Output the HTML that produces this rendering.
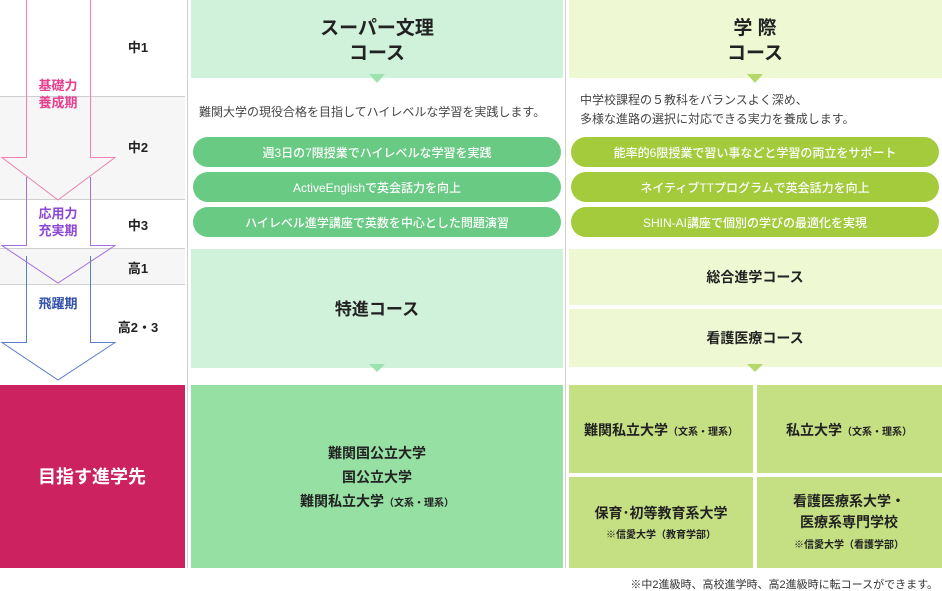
<!DOCTYPE html>
<html><head><meta charset="utf-8"><style>
body{margin:0;background:#fff;}
svg{display:block;font-family:"Liberation Sans","Noto Sans CJK JP",sans-serif;}
</style></head><body>
<svg width="942" height="591" viewBox="0 0 942 591" xmlns="http://www.w3.org/2000/svg">
<rect x="0" y="97" width="185" height="102" fill="#f6f6f6"/>
<rect x="0" y="249" width="185" height="35" fill="#f6f6f6"/>
<g stroke="#cfcfcf" stroke-width="1">
<line x1="0" y1="96.5" x2="185" y2="96.5"/>
<line x1="0" y1="199.5" x2="185" y2="199.5"/>
<line x1="0" y1="248.5" x2="185" y2="248.5"/>
<line x1="0" y1="284.5" x2="185" y2="284.5"/>
</g>
<line x1="187.5" y1="0" x2="187.5" y2="568" stroke="#d0d0d0"/>
<line x1="565.5" y1="0" x2="565.5" y2="568" stroke="#d0d0d0"/>
<path d="M26.5,256 V342.5 H2 L58,380 L115,342.5 H90.5 V256" fill="none" stroke="#5b7cc9" stroke-width="1"/>
<path d="M26.5,177 V245.5 H2 L58,283 L115,245.5 H90.5 V177" fill="none" stroke="#a56ee0" stroke-width="1"/>
<path d="M26.5,0 V157.5 H2 L58,200 L115,157.5 H90.5 V0" fill="none" stroke="#f27fb5" stroke-width="1"/>
<g font-size="13" text-anchor="middle" font-weight="bold">
<text x="58" y="90" fill="#e83f8f">基礎力</text>
<text x="58" y="107" fill="#e83f8f">養成期</text>
<text x="58" y="218" fill="#8c47d6">応用力</text>
<text x="58" y="235" fill="#8c47d6">充実期</text>
<text x="58" y="308" fill="#2f4fa8">飛躍期</text>
</g>
<g font-size="13" text-anchor="middle" font-weight="bold" fill="#222">
<text x="138" y="52">中1</text>
<text x="138" y="152">中2</text>
<text x="138" y="230">中3</text>
<text x="138" y="273">高1</text>
<text x="138" y="332">高2・3</text>
</g>
<rect x="0" y="385" width="185" height="183" fill="#cc2360"/>
<text x="92" y="483" font-size="18" font-weight="bold" fill="#fff" text-anchor="middle">目指す進学先</text>

<rect x="191" y="0" width="372" height="78" fill="#d0f1da"/>
<polygon points="369,74 385,74 377,83" fill="#9ce2b0"/>
<g font-size="19" font-weight="bold" text-anchor="middle" fill="#222">
<text x="377" y="34">スーパー文理</text>
<text x="377" y="59">コース</text>
</g>
<text x="199" y="116" font-size="12" fill="#444">難関大学の現役合格を目指してハイレベルな学習を実践します。</text>
<g fill="#69ca83">
<rect x="193" y="137" width="368" height="30" rx="15"/>
<rect x="193" y="172" width="368" height="30" rx="15"/>
<rect x="193" y="207" width="368" height="30" rx="15"/>
</g>
<g font-size="12" fill="#fff" text-anchor="middle" font-weight="500">
<text x="377" y="157">週3日の7限授業でハイレベルな学習を実践</text>
<text x="377" y="192">ActiveEnglishで英会話力を向上</text>
<text x="377" y="227">ハイレベル進学講座で英数を中心とした問題演習</text>
</g>
<rect x="191" y="249" width="372" height="119" fill="#d0f1da"/>
<polygon points="369,364 385,364 377,372" fill="#9ce2b0"/>
<text x="377" y="315" font-size="17" font-weight="bold" text-anchor="middle" fill="#222">特進コース</text>
<rect x="191" y="385" width="372" height="183" fill="#96e0a3"/>
<g font-size="14" font-weight="bold" text-anchor="middle" fill="#222">
<text x="377" y="458">難関国公立大学</text>
<text x="377" y="482">国公立大学</text>
<text x="377" y="506">難関私立大学<tspan font-size="10">（文系・理系）</tspan></text>
</g>

<rect x="569" y="0" width="373" height="78" fill="#eef9d3"/>
<polygon points="747,74 763,74 755,83" fill="#b4d86a"/>
<g font-size="19" font-weight="bold" text-anchor="middle" fill="#222">
<text x="755" y="34">学 際</text>
<text x="755" y="59">コース</text>
</g>
<text x="580" y="104" font-size="12" fill="#444">中学校課程の５教科をバランスよく深め、</text>
<text x="580" y="123" font-size="12" fill="#444">多様な進路の選択に対応できる実力を養成します。</text>
<g fill="#a3cb3c">
<rect x="571" y="137" width="368" height="30" rx="15"/>
<rect x="571" y="172" width="368" height="30" rx="15"/>
<rect x="571" y="207" width="368" height="30" rx="15"/>
</g>
<g font-size="12" fill="#fff" text-anchor="middle" font-weight="500">
<text x="755" y="157">能率的6限授業で習い事などと学習の両立をサポート</text>
<text x="755" y="192">ネイティブTTプログラムで英会話力を向上</text>
<text x="755" y="227">SHIN-AI講座で個別の学びの最適化を実現</text>
</g>
<rect x="569" y="249" width="373" height="56" fill="#eef9d3"/>
<rect x="569" y="309" width="373" height="58" fill="#eef9d3"/>
<polygon points="747,364 763,364 755,372" fill="#b4d86a"/>
<g font-size="14" font-weight="bold" text-anchor="middle" fill="#222">
<text x="755" y="282">総合進学コース</text>
<text x="755" y="343">看護医療コース</text>
</g>
<g fill="#c5df83">
<rect x="569" y="385" width="184" height="88"/>
<rect x="757" y="385" width="185" height="88"/>
<rect x="569" y="477" width="184" height="91"/>
<rect x="757" y="477" width="185" height="91"/>
</g>
<g font-size="14" font-weight="bold" text-anchor="middle" fill="#222">
<text x="661" y="435">難関私立大学<tspan font-size="10">（文系・理系）</tspan></text>
<text x="849" y="435">私立大学<tspan font-size="10">（文系・理系）</tspan></text>
<text x="661" y="518">保育･初等教育系大学</text>
<text x="849" y="506">看護医療系大学・</text>
<text x="849" y="527">医療系専門学校</text>
<text x="661" y="538" font-size="10">※信愛大学（教育学部）</text>
<text x="849" y="548" font-size="10">※信愛大学（看護学部）</text>
</g>
<text x="938" y="588" font-size="11" fill="#333" text-anchor="end">※中2進級時、高校進学時、高2進級時に転コースができます。</text>
</svg>
</body></html>
